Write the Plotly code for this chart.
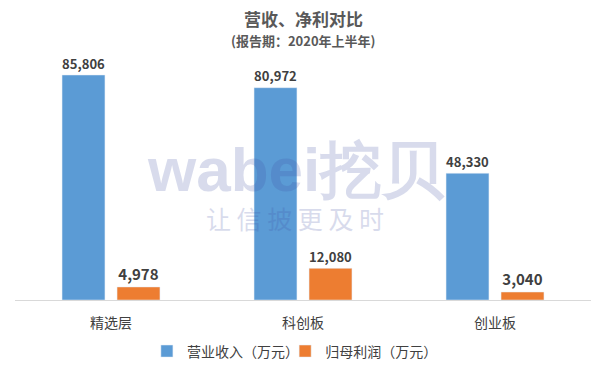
import plotly.graph_objects as go

categories = ["精选层", "科创板", "创业板"]
revenue = [85806, 80972, 48330]
profit = [4978, 12080, 3040]
series_names = ["营业收入（万元）", "归母利润（万元）"]

FONT = "Noto Sans CJK SC"
fig = go.Figure()
fig.add_bar(x=categories, y=revenue, name=series_names[0], marker_color="#5b9bd5",
            text=[f"<b>{v:,}</b>" for v in revenue], textposition="outside",
            textfont=dict(size=15, color="#404040", family=FONT), cliponaxis=False,
            legend="legend")
fig.add_bar(x=categories, y=profit, name=series_names[1], marker_color="#ed7d31",
            text=[f"<b>{v:,}</b>" for v in profit], textposition="outside",
            textfont=dict(size=15, color="#404040", family=FONT), cliponaxis=False,
            legend="legend2")

legend_style = dict(orientation="h", xanchor="left", y=-0.21, yanchor="middle",
                    font=dict(size=14, color="#404040", family=FONT), itemwidth=30,
                    bgcolor="rgba(0,0,0,0)")

fig.update_layout(
    width=605, height=378,
    margin=dict(l=15, r=14, t=55, b=78, autoexpand=False),
    paper_bgcolor="white", plot_bgcolor="white",
    barmode="group", bargap=0.427, bargroupgap=0.22,
    font=dict(family=FONT, color="#404040"),
    showlegend=True,
    legend=dict(x=0.229, **legend_style),
    legend2=dict(x=0.469, **legend_style),
    xaxis=dict(showline=True, linecolor="#d9d9d9", linewidth=1, ticks="", automargin=False,
               ticklabelstandoff=10,
               tickfont=dict(size=14, color="#404040", family=FONT)),
    yaxis=dict(visible=False, range=[0, 93434], automargin=False),
)
fig.add_annotation(text="<b>营收、净利对比</b>", xref="paper", yref="paper", x=0.5, y=1.0,
                   yanchor="middle", yshift=37, showarrow=False,
                   font=dict(size=17, color="#595959", family=FONT))
fig.add_annotation(text="<b>(报告期：2020年上半年)</b>", xref="paper", yref="paper", x=0.5, y=1.0,
                   yanchor="middle", yshift=15, showarrow=False,
                   font=dict(size=13, color="#595959", family=FONT))
# watermark
fig.add_annotation(text="<b>wabei挖贝</b>", xref="paper", yref="paper", x=0.5, y=0.5,
                   yanchor="middle", yshift=8, xshift=-7, showarrow=False, opacity=0.2,
                   font=dict(size=62, color="#3f51a5", family="Liberation Sans"))
fig.add_annotation(text="让 信 披 更 及 时", xref="paper", yref="paper", x=0.5, y=0.5,
                   yanchor="middle", yshift=-40, xshift=-8, showarrow=False, opacity=0.2,
                   font=dict(size=25, color="#3f51a5", family=FONT))

fig.write_html("out.html", config={"displayModeBar": False},
               post_script="document.body.style.margin='0';")
